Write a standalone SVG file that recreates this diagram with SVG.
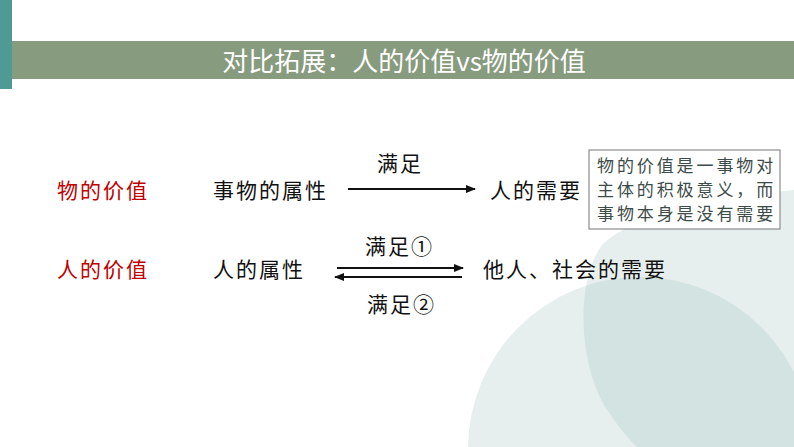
<svg xmlns="http://www.w3.org/2000/svg" width="794" height="447" viewBox="0 0 794 447">
<style>
.body{font-family:"Noto Sans CJK SC","Noto Sans",sans-serif;font-size:21px;letter-spacing:2px;fill:#111}
.red{fill:#c00000}
.note{font-family:"Noto Sans CJK SC","Noto Sans",sans-serif;font-size:17px;letter-spacing:2.9px;fill:#3d4b49}
.title{font-family:"Noto Sans CJK SC","Noto Sans",sans-serif;font-size:26px;fill:#fff}
.conn{stroke:#111;stroke-width:2.2;fill:none}
</style>
<defs>
<marker id="ah" viewBox="0 0 10 8" refX="9" refY="4" markerWidth="10" markerHeight="8" markerUnits="userSpaceOnUse" orient="auto">
<path d="M0,0 L10,4 L0,8 Z" fill="#111"/>
</marker>
<path id="shapeA" d="M794,190 C720,198 630,215 602,245 C576,280 578,360 604,405 C615,422 625,436 637,447 L794,447 Z"/>
<clipPath id="clipA"><use href="#shapeA"/></clipPath>
</defs>
<rect width="794" height="447" fill="#fff"/>
<g id="background">
<use href="#shapeA" fill="#e6efed"/>
<circle cx="640" cy="449" r="172" fill="#e6efed"/>
<circle cx="640" cy="449" r="172" fill="#d3e3e1" clip-path="url(#clipA)"/>
</g>
<g id="header">
<rect x="0" y="0" width="12" height="89" fill="#4f9a94"/>
<rect x="12" y="41" width="782" height="38" fill="#879b7e"/>
<text class="title" x="404" y="71" text-anchor="middle">对比拓展：人的价值vs物的价值</text>
</g>
<g id="connectors">
<line class="conn" x1="348" y1="189" x2="475" y2="189" marker-end="url(#ah)"/>
<line class="conn" x1="337" y1="268" x2="463" y2="268" marker-end="url(#ah)"/>
<line class="conn" x1="462" y1="277" x2="335" y2="277" marker-end="url(#ah)"/>
<text class="body" x="377" y="171">满足</text>
<text class="body" x="365" y="254">满足①</text>
<text class="body" x="367" y="312">满足②</text>
</g>
<g id="label-wu">
<text class="body red" x="57" y="198">物的价值</text>
</g>
<g id="node-wu-shuxing">
<text class="body" x="213" y="198">事物的属性</text>
</g>
<g id="node-ren-xuyao">
<text class="body" x="490" y="198">人的需要</text>
</g>
<g id="note">
<rect x="589" y="150" width="191" height="79" fill="#fff" stroke="#8c8c8c" stroke-width="1.2"/>
<text class="note" x="597" y="172">物的价值是一事物对</text>
<text class="note" x="597" y="196">主体的积极意义，而</text>
<text class="note" x="597" y="220">事物本身是没有需要</text>
</g>
<g id="label-ren">
<text class="body red" x="57" y="277">人的价值</text>
</g>
<g id="node-ren-shuxing">
<text class="body" x="213" y="277">人的属性</text>
</g>
<g id="node-shehui-xuyao">
<text class="body" x="483" y="277">他人、社会的需要</text>
</g>
</svg>
